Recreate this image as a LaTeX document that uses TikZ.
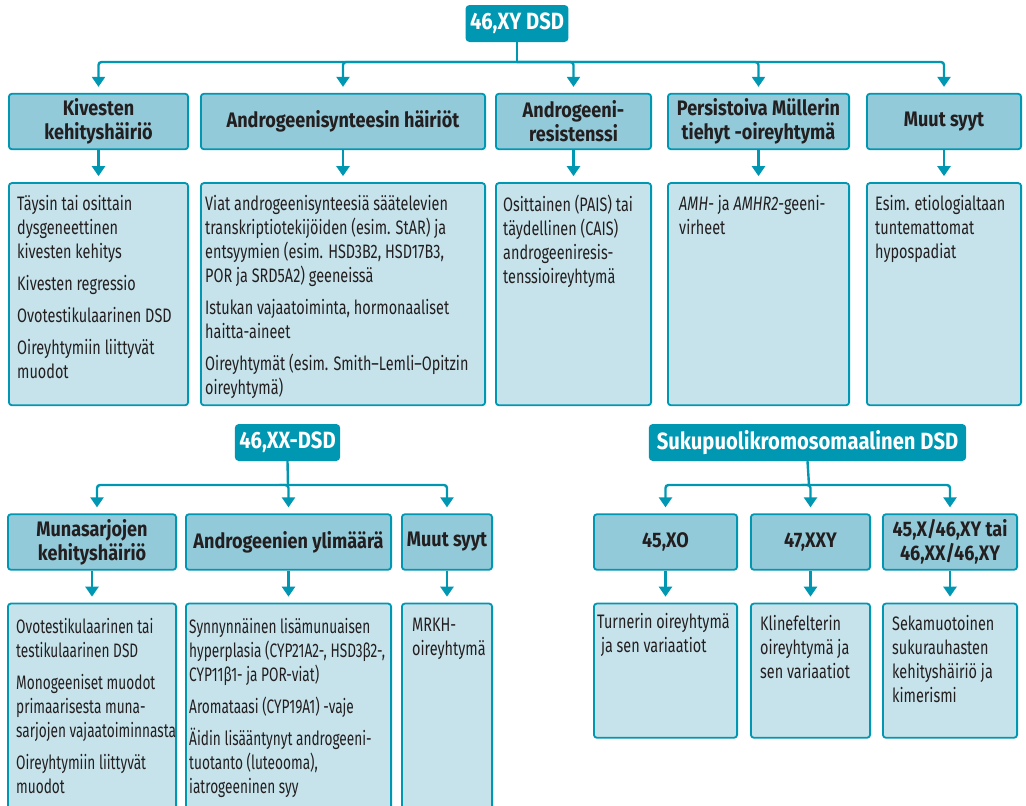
\documentclass[tikz,border=0pt]{standalone}
\usepackage{fontspec}
\setmainfont[FakeStretch=0.74, BoldFeatures={FakeStretch=0.86}]{Fira Sans}
\newfontfamily\narrowtext[FakeStretch=0.70]{Fira Sans}
\usetikzlibrary{arrows.meta,positioning}

\definecolor{dsdteal}{HTML}{0097B2}
\definecolor{catfill}{HTML}{93CAD9}
\definecolor{infofill}{HTML}{C6E3EB}
\definecolor{inkdark}{HTML}{231F20}

\tikzset{
    link/.style={draw=dsdteal, line width=2.4pt, rounded corners=3pt,
        -{Triangle[width=13pt,length=10pt]}, shorten >=6pt},
    stem/.style={draw=dsdteal, line width=2.4pt},
    rootbox/.style={fill=dsdteal, rounded corners=4pt, text=white,
        font=\fontsize{23.5}{28}\selectfont\bfseries, minimum height=37pt, inner xsep=4.5pt},
    catbox/.style={draw=dsdteal, line width=1.8pt, fill=catfill, rounded corners=3pt,
        text=inkdark, align=center, font=\fontsize{21}{24}\selectfont\bfseries,
        minimum height=55.5pt, inner sep=0pt},
    infobox/.style={draw=dsdteal, line width=1.8pt, fill=infofill, rounded corners=3pt,
        inner sep=0pt},
    infotext/.style={text=inkdark, font=\fontsize{19.5}{24}\selectfont, align=left,
        inner sep=0pt, anchor=north west},
}

\begin{document}
\begin{tikzpicture}[x=1pt, y=-1pt]
    \useasboundingbox (0,0) rectangle (1026,806);
    \clip (0,0) rectangle (1026,806);

    % 46,XY DSD
    \node[rootbox] (xy) at (517,23.5) {46,XY DSD};
    \coordinate (xybus) at (517,62);

    \node[catbox, minimum width=179.2pt] (kiv) at (98.5,121.5) {Kivesten\\kehityshäiriö};
    \node[catbox, minimum width=284.2pt, right=11pt of kiv] (syn) {Androgeenisynteesin häiriöt};
    \node[catbox, minimum width=155.2pt, right=9pt of syn] (res) {Androgeeni-\\resistenssi};
    \node[catbox, minimum width=181.2pt, right=15pt of res] (mul) {Persistoiva Müllerin\\tiehyt -oireyhtymä};
    \node[catbox, minimum width=154.2pt, right=16pt of mul] (muu) {Muut syyt};

    \node[infobox, minimum width=179.2pt, minimum height=222.2pt, below=32pt of kiv] (kiv-info) {};
    \node[infobox, minimum width=284.2pt, minimum height=222.2pt, below=32pt of syn] (syn-info) {};
    \node[infobox, minimum width=155.2pt, minimum height=222.2pt, below=32pt of res] (res-info) {};
    \node[infobox, minimum width=181.2pt, minimum height=222.2pt, below=32pt of mul] (mul-info) {};
    \node[infobox, minimum width=154.2pt, minimum height=222.2pt, below=32pt of muu] (muu-info) {};

    \node[infotext] (kiv-txt) at ([xshift=9pt,yshift=-13pt]kiv-info.north west)
        {Täysin tai osittain\\dysgeneettinen\\kivesten kehitys\\[8pt]Kivesten regressio\\[8pt]%
         Ovotestikulaarinen DSD\\[8pt]Oireyhtymiin liittyvät\\muodot};
    \node[infotext] (syn-txt) at ([xshift=5pt,yshift=-13pt]syn-info.north west)
        {Viat androgeenisynteesiä säätelevien\\transkriptiotekijöiden (esim. StAR) ja\\%
         entsyymien (esim. HSD3B2, HSD17B3,\\POR ja SRD5A2) geeneissä\\[8pt]%
         Istukan vajaatoiminta, hormonaaliset\\haitta-aineet\\[8pt]%
         Oireyhtymät (esim. Smith--Lemli--Opitzin\\oireyhtymä)};
    \node[infotext] (res-txt) at ([xshift=8pt,yshift=-13pt]res-info.north west)
        {Osittainen (PAIS) tai\\täydellinen (CAIS)\\androgeeniresis-\\tenssioireyhtymä};
    \node[infotext] (mul-txt) at ([xshift=12pt,yshift=-13pt]mul-info.north west)
        {\textit{AMH}- ja \textit{AMHR2}-geeni-\\virheet};
    \node[infotext] (muu-txt) at ([xshift=9pt,yshift=-13pt]muu-info.north west)
        {Esim. etiologialtaan\\tuntemattomat\\hypospadiat};

    \draw[stem] (xy.south) -- (xybus);
    \foreach \n in {kiv,syn,res,mul,muu} {
        \draw[link] (xybus) -| (\n.north);
        \draw[link] (\n.south) -- (\n-info.north);
    }

    % 46,XX-DSD
    \node[rootbox] (xx) at (287.5,442.5) {46,XX-DSD};
    \coordinate (xxbus) at (288,485);

    \node[catbox, minimum width=168.2pt] (mun) at (92,542) {Munasarjojen\\kehityshäiriö};
    \node[catbox, minimum width=205.2pt, right=8pt of mun] (ylm) {Androgeenien ylimäärä};
    \node[catbox, minimum width=90.2pt, right=9pt of ylm] (muut) {Muut syyt};

    \node[infobox, minimum width=168.2pt, minimum height=230pt, below=32pt of mun] (mun-info) {};
    \node[infobox, minimum width=205.2pt, minimum height=230pt, below=32pt of ylm] (ylm-info) {};
    \node[infobox, minimum width=90.2pt, minimum height=230pt, below=32pt of muut] (muut-info) {};

    \node[infotext, font=\fontsize{19.5}{24}\selectfont\narrowtext] (mun-txt)
        at ([xshift=9pt,yshift=-15pt]mun-info.north west)
        {Ovotestikulaarinen tai\\testikulaarinen DSD\\[8pt]Monogeeniset muodot\\%
         primaarisesta muna-\\sarjojen vajaatoiminnasta\\[8pt]Oireyhtymiin liittyvät\\muodot};
    \node[infotext, font=\fontsize{19.5}{24}\selectfont\narrowtext] (ylm-txt)
        at ([xshift=4pt,yshift=-15pt]ylm-info.north west)
        {Synnynnäinen lisämunuaisen\\hyperplasia (CYP21A2-, HSD3β2-,\\CYP11β1- ja POR-viat)\\[8pt]%
         Aromataasi (CYP19A1) -vaje\\[8pt]Äidin lisääntynyt androgeeni-\\tuotanto (luteooma),\\%
         iatrogeeninen syy};
    \node[infotext] (muut-txt) at ([xshift=11pt,yshift=-15pt]muut-info.north west)
        {MRKH-\\oireyhtymä};

    \draw[stem] (xx.south) -- (xxbus);
    \draw[link] (xxbus) -| ([xshift=5pt]mun.north);
    \draw[link] (mun.south) -- (mun-info.north);
    \foreach \n in {ylm,muut} {
        \draw[link] (xxbus) -| (\n.north);
        \draw[link] (\n.south) -- (\n-info.north);
    }

    % Sukupuolikromosomaalinen DSD
    \node[rootbox, inner xsep=8pt] (sx) at (807.5,442.5) {Sukupuolikromosomaalinen DSD};
    \coordinate (sxbus) at (809,485);

    \node[catbox, minimum width=143.2pt] (xo) at (665.5,542) {45,XO};
    \node[catbox, minimum width=119.2pt, right=12pt of xo] (xxy) {47,XXY};
    \node[catbox, minimum width=134.2pt, right=11pt of xxy] (mos) {45,X/46,XY tai\\46,XX/46,XY};

    \node[infobox, minimum width=143.2pt, minimum height=134.2pt, below=32pt of xo] (xo-info) {};
    \node[infobox, minimum width=119.2pt, minimum height=134.2pt, below=32pt of xxy] (xxy-info) {};
    \node[infobox, minimum width=134.2pt, minimum height=134.2pt, below=32pt of mos] (mos-info) {};

    \node[infotext] (xo-txt) at ([xshift=4pt,yshift=-10pt]xo-info.north west)
        {Turnerin oireyhtymä\\\ ja sen variaatiot};
    \node[infotext] (xxy-txt) at ([xshift=10pt,yshift=-12pt]xxy-info.north west)
        {Klinefelterin\\oireyhtymä ja\\sen variaatiot};
    \node[infotext] (mos-txt) at ([xshift=10pt,yshift=-12pt]mos-info.north west)
        {Sekamuotoinen\\sukurauhasten\\kehityshäiriö ja\\kimerismi};

    \draw[stem] (sx.south) -- (sxbus);
    \foreach \n in {xo,xxy,mos} {
        \draw[link] (sxbus) -| (\n.north);
        \draw[link] (\n.south) -- (\n-info.north);
    }
\end{tikzpicture}
\end{document}
